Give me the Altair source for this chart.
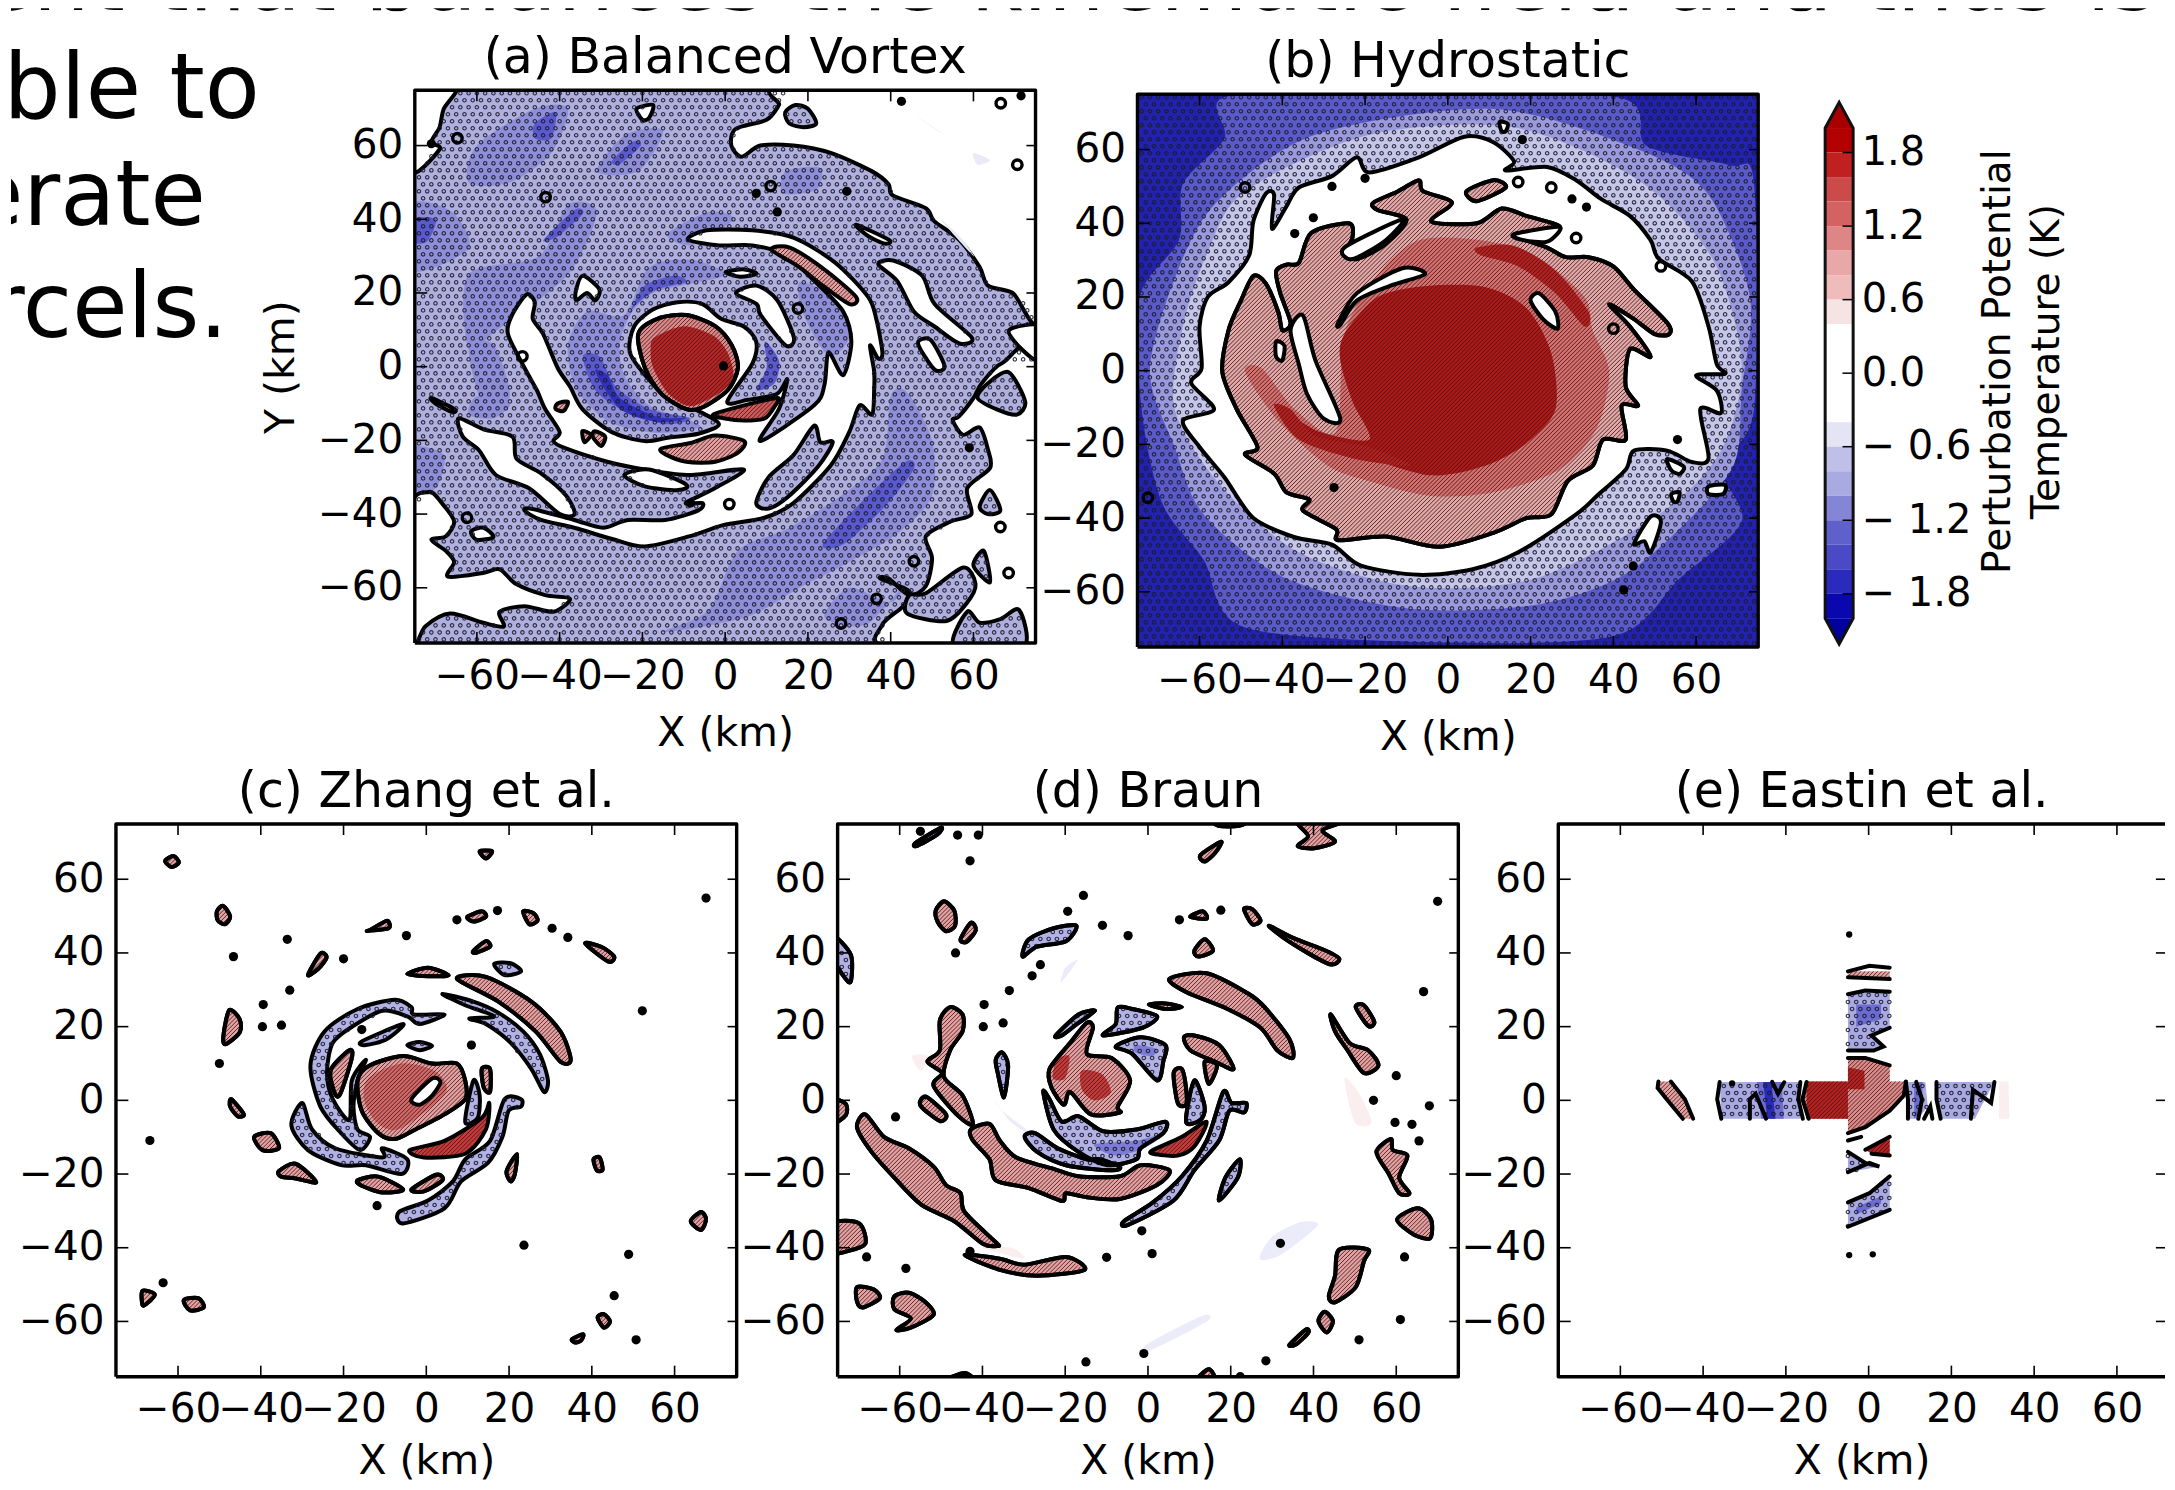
import altair as alt
import numpy as np
import pandas as pd

# ---------- colour bar ----------
CB_EDGES = [2.0,1.8,1.6,1.4,1.2,1.0,0.8,0.6,0.4,-0.4,-0.6,-0.8,-1.0,-1.2,-1.4,-1.6,-1.8,-2.0]
CB_COLORS = ["#b30000","#c02020","#cb4a4a","#d46262","#de8686","#e8a8a8","#efbcbc","#f6e4e4","#ffffff",
             "#e4e4f4","#bfbfe8","#aaaae2","#8585d8","#6060cc","#4a4ac6","#2a2abc","#0808ae"]
CB_TICKS = [-1.8,-1.2,-0.6,0.0,0.6,1.2,1.8]
KM_TICKS = [-60,-40,-20,0,20,40,60]

# ---------- panel (a) ----------
A_WHITE = [
 [(-76,76),(-65,76),(-68,70),(-69,65),(-71,61),(-69,59),(-76,53)],
 [(15,76),(13,71),(10,67),(2.5,64.5),(1.5,60),(4,57),(8.5,60),(16.5,60),(25.5,58),(35.5,53),(39.5,49.5),(40.5,46.5),(48.5,43),(50.5,39.5),(56.5,34.5),(61.5,27),(63.5,22),(69.5,20),(76,14),(76,76)],
 [(-76,-39),(-71.5,-34),(-68.5,-37),(-65.5,-42),(-67.5,-46),(-71,-47),(-67.5,-50),(-65.5,-53),(-67,-57),(-58.5,-56),(-54.5,-55),(-50.5,-59),(-43.5,-62),(-37.5,-63),(-41.5,-66.5),(-48.5,-65),(-54.5,-66.5),(-53.5,-70.5),(-58.5,-69.5),(-66.5,-67),(-72.5,-70.5),(-76,-76)],
 [(76,2),(67,1),(62,-4.5),(60,-8.5),(56.5,-13.5),(55,-14.5),(57.5,-18.5),(61.5,-16.5),(63.5,-22.5),(64,-27.5),(58.5,-33),(59.5,-40),(54.5,-42),(48.5,-46),(50,-52),(48.5,-59.5),(44.5,-62),(39.5,-57.5),(37.5,-57.5),(44.5,-61),(43,-65),(38,-70),(39,-76),(76,-76)],
 [(-9,34.5),(-4.5,37),(6.5,37),(16.5,35),(26.5,28.3),(34.5,19),(36.5,13),(38,3.8),(37,2.2),(35,5.8),(36,-1.3),(36,-6.4),(35.5,-13),(32.5,-10.5),(30,-17.7),(25.5,-26.8),(16.5,-37),(9.5,-41),(-0.5,-43),(-8.5,-46),(-19.5,-48.8),(-27.5,-46.7),(-36.5,-43.7),(-44.5,-41.6),(-48.5,-39),(-46.5,-38.6),(-36.5,-41.6),(-29.5,-43.7),(-23.5,-41.6),(-14.5,-41.6),(-6.5,-39),(-5.5,-37),(-9.5,-37),(-2.5,-33),(4.5,-27.9),(-8.5,-29.4),(-19.5,-27.9),(-28.5,-25.8),(-38.5,-22.2),(-41.5,-20.2),(-40,-17.7),(-43.5,-11.5),(-45.5,-6.4),(-48.5,-.3),(-52.5,8.9),(-51.5,14),(-48,19.6),(-46,17.5),(-46.5,13),(-44,8.9),(-40.5,-.3),(-37.5,-5.4),(-34.5,-11.5),(-27.5,-17.7),(-19.5,-20.2),(-13.5,-19.2),(-6.5,-18.2),(-1.5,-15.6),(-6.5,-12),(-13.5,-8.5),(-18.5,-3.4),(-23,3.8),(-22,10.9),(-17.5,15.5),(-11.5,17.5),(-5.5,17),(-1,13),(4.5,10.9),(7.5,6.8),(6.5,.7),(.5,-9.5),(5.5,-9),(12.5,-7.4),(15,-3.4),(13,-11.5),(8.5,-20.2),(21.5,-10.5),(24,-4.9),(25,3.8),(28.5,-2.3),(30.5,6.8),(28.5,15),(21.6,23.2),(14.6,30.3),(6.6,32.9),(-1.4,32.9)],
 [(-64.4,-14),(-58.4,-17),(-51.4,-19),(-50.4,-25),(-44.4,-29),(-38.4,-35),(-36.4,-40),(-40,-40),(-47.4,-33),(-55.4,-29.4),(-59.4,-22.8),(-63.4,-19)],
 [(37,27.8),(40.6,28.8),(47.6,24.7),(50.6,17),(59.6,7.9),(56.6,6.3),(50.6,10.9),(45.6,15),(41.6,23.2)],
 [(46.6,6.3),(49.6,7.3),(53,.2),(50.6,-.8)],
 [(31.6,38.5),(39.6,34.4),(38.6,33.4),(34.6,35.4)],
 [(.1,25.7),(4.6,26.4),(7.6,25.2),(3.6,24.4)],
 [(2.6,20),(7.6,22),(12.6,18),(16.6,7.9),(14.6,5.8),(8.6,14),(7.6,17)],
 [(-36,21),(-34.4,24.7),(-30.4,21),(-31.4,18),(-33.4,20),(-36,18)],
 [(-21.4,70),(-17.4,71),(-18.4,67.5),(-20,67)],
 [(-71,-8.5),(-65.4,-11.5),(-66,-12.3),(-70,-10)],
 [(-24.4,-29.4),(-18.4,-27.9),(-9.4,-32),(-11.4,-33.5),(-19.4,-32.5)],
 [(-61.4,-44.7),(-58.4,-43.7),(-56,-46.2),(-60,-47)],
 [(68.6,9.9),(76,11),(76,1.7),(71.6,4.8)],
]
A_ISLANDS = [
 [(14.5,69),(17,71),(20,70),(22,66),(19,65),(15.5,66)],
 [(7.5,-37),(10.5,-30),(16.5,-24),(21.5,-16),(23,-20.5),(26,-20.5),(22.5,-27),(15.5,-35),(10.5,-38.5)],
 [(55.5,-76),(58.5,-66.5),(61.5,-69.5),(66.5,-68.5),(71,-66),(72,-76)],
 [(48.5,-61.5),(57.5,-54.5),(60.5,-59),(58.5,-64),(53.5,-69),(44,-67),(44.5,-62)],
 [(64,-33.5),(66.5,-39),(63.5,-40),(61.5,-38)],
 [(62.5,-50),(64,-58.5),(60,-54)],
 [(61,-8.5),(63.5,-4.5),(68.5,-1.5),(72.5,-9.5),(70.5,-13),(65.5,-11.5)],
]
A_SHADE1 = [
 [(-24.4,14),(-18.4,27),(-8,29),(0,25),(-10.4,22),(-17.4,20),(-22.4,15),(-25.4,6.8),(-24.4,-2.3),(-18.4,-10.5),(-8.4,-14.6),(-6.4,-16.6),(-16.4,-18),(-28,-15),(-36,-6),(-38,6),(-33.4,15)],
 [(-4,-66),(3,-50),(15,-44),(28,-35),(38,-25),(40,-8),(44,-7),(50,-20),(50,-35),(42,-45),(30,-53),(18,-60),(5,-68),(-15,-72)],
 [(-62,25),(-45,30),(-38,44),(-31,42),(-38,25),(-55,10),(-62,5)],
 [(-31,53),(-24,63),(-15,64),(-21,53)],
 [(-60,60),(-46,70),(-38,70),(-42,58),(-52,50),(-62,50)],
 [(-76,44),(-66,42),(-62,32),(-76,26)],
 [(14.6,53),(23,54),(22,48),(14,47)],
 [(-62,5),(-56,6),(-52,-8),(-58,-12)],
 [(18,23),(27,18),(30,8),(25,3),(19,14)],
 [(-76,-22),(-68,-24),(-70,-33),(-76,-33)],
 [(-60,-8),(-52,-10),(-56,-14),(-62,-13)],
 [(44,-58),(40,-64),(30,-60),(24,-68),(34,-70)],
 [(-14,36),(-4,42),(2,40),(-8,33)],
]
A_SHADE2 = [
 [(-34.4,2.8),(-30.4,2.8),(-26.4,-5.4),(-18.4,-11.5),(-8.4,-14),(-14.4,-15.6),(-24.4,-12),(-31.4,-6.4)],
 [(-22.9,15),(-19.4,22),(-12.4,24.7),(-9.4,23),(-16.4,21),(-21.4,17)],
 [(9.6,6.8),(13,1.7),(12,-4.4),(7.6,-6.4),(10,-.3)],
 [(-43.9,34.4),(-36.4,42.5),(-34.4,41.5),(-40.4,35.4)],
 [(23.6,-48.2),(33.6,-36),(43.6,-25.8),(45.6,-27.8),(38.6,-38),(28.6,-48.2)],
 [(-27.4,55.8),(-22.4,61),(-20.4,60),(-25.4,55)],
 [(-46,66),(-41,69),(-42,62),(-46,62)],
 [(-76,40),(-70,40),(-72,34),(-76,34)],
]
A_SHADE3 = [[(-31.4,-1.3),(-28.4,-2.3),(-25.4,-8.5),(-16.4,-13.6),(-9.4,-14),(-16.4,-15),(-25.4,-11.5)]]
A_PALE = [[(60,58),(64,56),(61,54.8)],[(46,68),(53,63),(50,65)],[(52,40),(60,30),(57,35)]]
A_RED_LIGHT = [
 [(11.1,31.8),(15.6,32.3),(23.6,26.7),(31.6,19),(30.1,17),(23.6,22),(17.6,27.3)],
 [(-15.4,-22.2),(-8.4,-20.7),(-2.4,-18.7),(4.6,-20.2),(3.1,-23.3),(-2.4,-25.8),(-9.4,-25.8),(-14.4,-23.8)],
 [(-40.5,-10),(-38,-9.5),(-39,-12),(-41,-11.5)],
 [(-34.5,-17.5),(-32.5,-18.5),(-34,-20.5)],
 [(-31.5,-17.5),(-29,-19),(-30,-21.5),(-32,-19)],
]
A_RED_MID = [[(-2.9,-13),(4.6,-10.5),(12.6,-8.5),(12.1,-10.5),(9.6,-14),(4.6,-14.6),(-.4,-14)]]
A_CORE = [[(-21,8.9),(-16.4,13),(-9.4,14),(-2.4,11),(1.6,5.8),(3.1,-.3),(.6,-6.4),(-5.4,-11),(-9.4,-11.5),(-15.4,-7.4),(-19.4,-.3)]]
A_CORE_IN = [[(-17,8),(-10,11),(-3,8.5),(0.5,4),(2,-2),(0,-6),(-6,-10),(-9.5,-10.5),(-14,-7),(-17.5,0),(-18,5)]]
A_LOOPS = [(-64.7,62),(-43.4,46),(11,49),(70.6,54.8),(66.6,71.5),(-49,2.8),(17.6,15.8),(1,-37.3),(-62.4,-41),(45.6,-52.8),(36.6,-63),(28,-69.7),(66.5,-43.5),(68.5,-56)]
A_BLOBS = [(7.5,47),(29.4,47.6),(12.6,42),(42.6,72),(71.5,73.5),(-0.4,.2),(-8.4,-37),(59,-22),(-71,60.5)]

# ---------- panel (b) ----------
B_SHADE1 = [[(-54,74.2),(-19,75.2),(41,74.2),(48,61),(68,55.8),(74,50.7),(74,-10.5),(66,-25.8),(71,-41),(56,-56.4),(41,-71.7),(1,-73.8),(-49,-69.7),(-59,-51.3),(-69,-36),(-74,-10.5),(-74.5,20),(-65,35.4),(-64,50.7),(-54,63)]]
B_SHADE2 = [[(-32,64),(11,71),(46,60),(63,47.7),(73,20),(71,-5.4),(69,-25.8),(55,-44),(41,-56.4),(21,-63.6),(-9,-64.6),(-39,-56.4),(-59,-39),(-66,-20.7),(-72,-.3),(-66,25),(-56,45.6)]]
B_SHADE3 = [[(-49,48.7),(-19,64),(16,66),(46,51.7),(64,30.3),(71,1.7),(66,-21.7),(51,-39),(21,-56.4),(-9,-58.5),(-36,-49.3),(-55,-31),(-66,-10.5),(-64,12),(-58,32.3)]]
B_WHITE = [[(-64,-13.6),(-56.5,-10.5),(-62,-3.4),(-59.5,.7),(-60,12),(-58,20),(-53,24),(-48,31.3),(-47,40.5),(-44,48),(-42,47.7),(-42.5,38.5),(-39,44.6),(-36,49.7),(-28,52.8),(-22,57.9),(-19,53.8),(-7,57.9),(4,63.5),(11,62),(16,56.8),(14,54.3),(24,55.3),(31,51.7),(37,46.6),(44,42),(49,35.4),(51,30.3),(59,24.2),(63,12),(65,1.7),(67,-.8),(60,-1.3),(65,-5.4),(66,-11.5),(61,-10.5),(63,-23.8),(59,-24.8),(53,-21.7),(45,-21.7),(43,-26.8),(36,-34),(31,-39),(17,-49.3),(6,-53.9),(-7,-55.4),(-21,-52.9),(-28,-47.2),(-37,-45.2),(-47,-40),(-54,-28.9),(-60,-20.7)],
 [(53,-24),(57,-26),(56,-28),(54,-27)],
 [(45,-47),(49,-39.6),(51.5,-41),(49,-49.3),(47.5,-46.3)],
 [(12.5,67.5),(14.5,67),(14,65),(13,65)],
 [(63,-31.4),(67,-31),(66.5,-33.5),(63,-33.5)],
 [(54,-33.5),(56,-33),(55.5,-35.5),(54.5,-35.5)]]
B_RED = [[(-54.5,-.3),(-53,11),(-50,19),(-47,25.7),(-44,23.7),(-41,16),(-40,11),(-38,13),(-40.5,21),(-41.5,27),(-39,28.8),(-36,29.3),(-33,37.4),(-24,40),(-23,36.4),(-24.5,32.3),(-22,30.3),(-15,34.4),(-10,41),(-17,43.6),(-18,45.6),(-12,48.7),(-7,51.7),(-6,48.7),(1,45.6),(-4,40.5),(7,40),(13,44),(19,42),(27,39),(16,37),(24,33.4),(28.5,30.8),(34,30.8),(40,28.3),(45,22),(53,13),(53.5,9.9),(50,9.9),(45,14),(39,18),(44,12),(49,3.8),(44,5.8),(43,-4.4),(46,-9.5),(42,-9.5),(43,-18.7),(37.5,-18.7),(35,-25.8),(29,-29.9),(25,-39),(19,-40),(11,-44),(-2,-47.8),(-15,-45),(-26.5,-46),(-27,-43),(-35,-38),(-33.5,-35),(-39,-33),(-42,-27.9),(-49,-22.8),(-46,-20.7),(-51,-10.5)],
 [(4.5,48.7),(11,51.7),(14,49.7),(7,46)]]
B_MID = [[(-7,35.4),(8,35.4),(21,31.3),(33,20),(35,11),(39,-.3),(36,-15.6),(27,-26.8),(11,-33),(-4,-34),(-19,-30),(-29,-25.8),(-41,-13.6),(-49,-.3),(-45,.7),(-37,-10.5),(-27,-16.6),(-25,9.9),(-17,26)]]
B_ARCS = [[(7,33.4),(16,33.9),(26,27.2),(34,16),(33,12),(26,21),(17,28.3),(8,31.3)],
          [(-42,-9.5),(-38,-10.5),(-32,-17.7),(-19,-20.7),(-9,-25.8),(-23,-23.8),(-36,-18.7)]]
B_CORE = [[(-25,9.9),(-17,20),(-5,23),(9,22.7),(19,17),(25,4.8),(26,-10.5),(19,-19.7),(9,-25.8),(-4,-28.4),(-19,-23.8),(-35,-18.7),(-39,-11.5),(-31,-16.6),(-19,-18.7),(-23,-8.5),(-26,2.8)]]
B_HOLES = [[(-26.5,13),(-22,21),(-11,27.8),(-5.5,26.2),(-14,23),(-22,19),(-26,12.4)],
 [(20,19),(22,21),(26,16),(26.5,11.4),(23,14)],
 [(-38,11),(-35,15),(-32,2.8),(-26,-13),(-30,-13),(-34,-6.4),(-36,1.7)],
 [(-41.5,7.9),(-39.5,6.8),(-40,2.8),(-41.5,3.8)],
 [(-25,33.4),(-11,41),(-15,35.4),(-23,30.3)],
 [(16,37),(27,39),(24,35),(18,35.5)]]
B_LOOPS = [(-49,49.7),(-72.5,-34.5),(25,49.7),(31,36),(51.5,28.3),(40,11.4),(17,51.2)]
B_BLOBS = [(18,62.7),(-28,50),(-20,52.2),(30,46.6),(33.5,44.4),(-27.5,-31.7),(44.8,-53),(42.5,-59.5),(55.5,-18.7),(-32.5,41.5),(-37,37.2)]

# ---------- panel (c) ----------
C_BLUE = [
 [(-28,9.5),(-24.6,18.7),(-16.6,24.8),(-7.6,27.3),(-3.6,25.3),(-3,23.3),(4.4,23.3),(-1.6,20.7),(-4.6,22.8),(-10.6,24.3),(-17.6,20.2),(-22.6,15.6),(-24,7.4),(-22.6,.3),(-18.6,-5.3),(-18,5.4),(-14.6,11),(-16.6,5.4),(-17.6,-1.7),(-16.6,-7.9),(-13.6,-9.9),(-16,-13.5),(-20.6,-8.9),(-25.6,-1.7)],
 [(-15.6,16),(-5.6,20.7),(-9.6,16.6),(-14.6,15)],
 [(3.9,28.9),(11.4,26.8),(17.4,23.8),(23.4,18.7),(27.4,12.6),(29.4,5.4),(28.4,2.3),(25.4,8.5),(20.4,15.6),(14.4,20.7),(10.4,22.2),(16.4,22.8),(9.4,25.8)],
 [(-32.6,-6.8),(-30,-.7),(-27.6,-7.9),(-22,-13),(-10.6,-15.5),(-10.6,-13),(-4.6,-16),(-6,-20),(-14.6,-17.6),(-20.6,-17.6),(-28.6,-13.5)],
 [(-6.6,-30.3),(.4,-27.2),(6.4,-22),(9.4,-16),(15.4,-11),(18.9,.3),(22.9,.3),(22.9,-1.7),(19.9,-2.8),(18.4,-9.9),(14.9,-17),(8.4,-22),(4.4,-29.3),(-5.6,-33.4)],
 [(9.4,-5.8),(11.4,5.4),(12.9,1.3),(12.4,-4.8)],
 [(-4.6,15),(-1.6,15.8),(1.4,14.8),(-1.6,13.6)],
 [(16.4,37),(20.4,37.2),(22.9,35),(18.9,34)],
]
C_RED = [
 [(-16.6,5.4),(-13.6,9.5),(-5.6,12),(1.4,10),(7.4,10),(9.4,5.4),(9.4,.3),(4.4,-3.8),(-2.6,-7.9),(-7.6,-10.5),(-11.6,-8.9),(-15.6,-2.8)],
 [(7.4,33),(14.4,33.5),(25.4,26.8),(32.4,18.7),(34.9,11),(32.4,10.5),(26.4,18.7),(17.4,26.8)],
 [(-23,8.5),(-18.6,13.6),(-18,11.5),(-21,1.3),(-22.6,3.4)],
 [(13.4,8.5),(15.4,8.5),(15.4,2.3),(13.9,3.4)],
 [(-13.6,46.2),(-9.6,48.7),(-9.1,46.7),(-14.1,46)],
 [(-4.6,34.3),(.4,36),(5.4,33.9),(.4,33.7)],
 [(-16.6,-21.7),(-11.6,-20.7),(-5.6,-24.2),(-10.6,-25),(-15.6,-23.2)],
 [(-3.6,-24.2),(2.4,-20.2),(3.9,-21.7),(-.6,-24.7)],
 [(-35.6,-19.2),(-31.6,-17.2),(-26.6,-22.2),(-31.6,-21.2),(-35.1,-20.7)],
 [(-41.6,-9.9),(-37.6,-8.9),(-35.6,-13),(-39.6,-13.5)],
 [(-49,17.9),(-47.6,24.5),(-45.1,22),(-45.1,18.4),(-48.6,15.2)],
 [(-28.6,34),(-25.6,39.8),(-24.1,38.8),(-26.1,35.7)],
 [(-50.6,51.3),(-49.1,52.8),(-47.4,49.9),(-48.6,47.8),(-50.4,48.8)],
 [(23.4,51.3),(25.9,50.8),(26.9,48.8),(24.9,47.8)],
 [(11.4,40.6),(14.4,43.2),(15.4,41.7),(11.9,40)],
 [(9.9,49.8),(13.4,51.3),(14.4,49.8),(11.4,48.5)],
 [(38.4,42.6),(42.4,41.6),(45.4,39),(43.9,37.7)],
 [(-47.1,.3),(-44.1,-3.8),(-45.6,-4.3),(-47.4,-1.7)],
 [(12.9,67.6),(15.9,67.6),(14.4,65.6)],
 [(-68.6,-51.7),(-65.6,-52.7),(-67.6,-55.2),(-68.6,-55.5)],
 [(-58.6,-54.2),(-55.1,-53.7),(-53.8,-56.2),(-57.1,-57)],
 [(63.9,-32.8),(66.4,-30.3),(67.6,-32.3),(66.4,-35.2)],
 [(40.4,-16),(41.9,-15.5),(42.6,-18.8),(41.2,-19)],
 [(41.4,-58.9),(42.9,-58),(44.4,-60),(42.9,-61.7)],
 [(35.2,-64.8),(37.9,-63.5),(37.4,-65.2),(35.9,-65.7)],
 [(-63.1,65),(-61.1,66.3),(-59.8,64.5),(-61.6,63.3)],
 [(19.4,-19.2),(21.9,-14.6),(21.4,-20),(20.4,-22)],
]
C_MIDDLE = [[(-14,6),(-6,10),(2,8),(5,3),(1,-2),(-7,-8),(-12,-6),(-15,0)]]
C_DARK = [[(-4,-13.5),(4.4,-11),(13.4,-4.8),(15.2,-.7),(14.4,-7.9),(9.4,-14.5),(-.6,-15.5)]]
C_HOLES = [[(-3.6,.3),(1.4,5.9),(3.4,4.9),(1.4,1.3),(-1.6,-1.2)]]
C_BLOBS = [(-46.6,39),(-39.6,20),(-50,10),(-33.6,43.7),(-20,38.4),(-4.8,44.7),(7.4,49),(17.2,51.5),(30.4,46.7),(34.2,44.2),(52.2,24.3),(67.6,54.9),(-66.8,-10.9),(48.9,-41.8),(45.4,-53),(50.7,-65),(-35,20.4),(10.9,15),(-11.9,-28.6),(-63.6,-49.5),(-39.4,26),(-33,29.9),(23.6,-39.3),(-15.6,19.2)]

# ---------- panel (d) ----------
D_RED = [
 [(-42.8,-7.9),(-38.3,-6.4),(-35.8,-10.9),(-31.8,-15.5),(-22.8,-18.6),(-16.8,-20.6),(-6.8,-20.6),(-1.8,-17.6),(5.2,-19),(2.2,-23),(-6.8,-26.8),(-14.8,-26.3),(-19.8,-25.2),(-20.8,-27.3),(-28.8,-23.8),(-36.8,-21.7),(-38.3,-16),(-42.3,-10.9)],
 [(-70.3,-7.4),(-68.3,-3.8),(-63.8,-9.9),(-57.8,-13),(-51.8,-18),(-48.8,-23),(-45.3,-25.2),(-44.3,-30.3),(-36.8,-38.5),(-36.3,-39.5),(-39.8,-39),(-46.8,-32.8),(-54.8,-28.3),(-61.3,-21),(-66.8,-14)],
 [(-44.3,-42),(-35.8,-43),(-29.8,-44.6),(-19.8,-42.5),(-15.3,-46),(-26.8,-47.6),(-35.8,-46)],
 [(5.2,33),(14.2,34.5),(24.2,29),(28.2,25.3),(34.2,16.6),(35,11.5),(31.2,13.6),(27.2,19.7),(19.2,24.8),(9.2,29.4)],
 [(-23.8,8.5),(-18.8,15.6),(-14.8,21),(-13.3,19.7),(-14.8,12.6),(-8.8,11.5),(-4.3,5.4),(-7.3,-1.7),(-6.8,-3.3),(-13.8,-3.8),(-18.8,2.3),(-20.3,-1.2),(-23.3,3.4)],
 [(-50.3,21.7),(-47.8,25.3),(-44.8,23.3),(-44.8,18.7),(-47.8,13.6),(-49.3,6.4),(-44.8,1.3),(-42.3,-6.4),(-45.8,-4.3),(-51.8,3.9),(-49.8,7.4),(-53.3,10.5),(-50.3,13.6)],
 [(8.7,17.1),(11.2,17.6),(17.2,15),(20.7,8.5),(16.2,10.5),(10.2,13.6)],
 [(6.2,7.4),(8.2,8.5),(9.2,3.4),(9.2,-1.2),(7.2,-.7)],
 [(13.7,10.5),(16.7,9.5),(14.7,4.4)],
 [(29.2,47.4),(35.2,44),(42.2,41),(46.2,38.5),(43.7,37),(34.2,43)],
 [(44.2,23.3),(48.7,15.6),(53.2,13.6),(55.7,9.5),(52.2,7.4),(48.2,13.6),(45.2,18.7)],
 [(50.2,25.3),(52.2,25.8),(54.7,21.3),(53.2,20.2)],
 [(55.2,-14),(58.7,-10.5),(59.2,-13.5),(62.7,-15),(60.7,-21),(63.2,-25.2),(60.7,-25.2),(58.2,-20)],
 [(60.2,-32.3),(65.2,-29.3),(68.4,-32.3),(68.2,-37.4),(64.2,-36.4)],
 [(46.2,-40.5),(53.2,-40.5),(52.2,-43.6),(50.2,-50.7),(45.2,-54.8),(43.7,-53.2),(45.2,-47.6)],
 [(-76,-33.4),(-69.8,-33.4),(-68.3,-38.9),(-72.8,-41),(-76,-41)],
 [(-70.3,-50.7),(-66.3,-51.3),(-64.8,-53.7),(-68.8,-56.2),(-70.3,-54.7)],
 [(-61.3,-53.2),(-57.8,-52.2),(-53.8,-54.7),(-51.8,-58.2),(-57.3,-61.7),(-60.8,-62.3),(-57.3,-59.2),(-61.3,-56.7)],
 [(-51.3,51.5),(-49.3,54),(-46.8,51.5),(-46.6,47.4),(-48.8,45.9),(-50.8,48.4)],
 [(-45.3,43.7),(-42.8,48.2),(-41.6,46.2),(-43.8,43)],
 [(23.2,51.9),(25.2,51.9),(27.2,48.8),(25.2,47.8)],
 [(11.2,40.6),(13.7,43.7),(15.7,40.6),(12.2,39)],
 [(10.2,49.8),(13.2,51.3),(14.2,49.3)],
 [(12.7,66.6),(17.7,70.2),(16.2,67.1),(13.7,64.8)],
 [(36.2,76),(47.7,76),(42.2,73.3),(45.2,70.2),(40.2,68.4),(36.2,69),(38.7,71.7)],
 [(16.2,76),(24,76),(22,74.5),(17,74.5)],
 [(-54.8,.3),(-53.3,.8),(-48.8,-3.8),(-50.3,-5.6),(-54.8,-1.7)],
 [(41.2,-59.9),(42.7,-57.4),(44.7,-59.9),(43.2,-63)],
 [(34.2,-66.3),(38.2,-62.2),(38.7,-63.2),(35.7,-66.3)],
 [(11.7,-76),(14.7,-73),(16.2,-76)],
 [(.2,26),(4.2,26.3),(8.2,25.3),(4.2,24.8)],
 [(-49,-76),(-44.3,-74),(-42.3,-76)],
 [(-76,0),(-73,-1),(-73,-4),(-76,-6)],
]
D_MIDDLE = [[(-16,8),(-11,7),(-9,2),(-13,0),(-16,3)],[(-22,11),(-19,12),(-20,6),(-23,6)]]
D_DARK = [[(1.2,-13.5),(8.2,-9.9),(14.2,-5.8),(11.2,-12.5),(7.2,-15),(1.2,-14.5)]]
D_BLUE = [
 [(-25.3,2.3),(-23.8,.3),(-20.8,-5.8),(-16.8,-4.3),(-10.8,-8.4),(-2.8,-7.9),(4.2,-5.8),(3.7,-8.9),(-1.8,-13),(-2.8,-16),(-9.8,-17.6),(-16.8,-14),(-22.8,-7.9)],
 [(-29.8,-9.9),(-27.3,-8.9),(-21.8,-13),(-14.8,-16),(-11.8,-16),(-6.8,-18),(-8.8,-19),(-19.8,-17.6),(-26.8,-14)],
 [(-5.8,-32.8),(1.2,-27.7),(8.2,-20.6),(14.2,-10.9),(18.2,2.3),(20.2,-.7),(23.7,-.7),(23.2,-3.3),(19.7,-2.8),(17.2,-10.9),(11.2,-19),(6.2,-27.2),(-4.8,-33.8)],
 [(-7.8,14.6),(-1.8,17.1),(4.2,15),(3.7,10.5),(2.2,5.4),(-3.8,12.6)],
 [(-10.8,17.6),(-7.8,20.7),(-7.3,25.2),(-3.8,24.8),(2.2,22.8),(-1.3,19.7)],
 [(-30.3,39),(-28.8,43.7),(-22.8,46.7),(-17.3,47.4),(-19.8,43.2),(-26.8,41.7)],
 [(-36.8,11),(-35.3,13),(-33.8,9.5),(-34.8,.8),(-36.3,7.4)],
 [(9.2,-5.8),(11.2,5.4),(13.7,-1.7),(12.7,-5.3)],
 [(17.2,-27.2),(18.7,-21),(22.2,-16),(21.7,-21)],
 [(-76,44.6),(-71.8,39.5),(-71.8,32.3),(-73.3,33.3),(-76,38.5)],
 [(-22.3,17.6),(-16.8,23.3),(-12.8,24.3),(-16.8,21),(-20.8,17.6)],
 [(-56,70),(-50,74),(-51,72),(-56,69)],
]
D_SHADE = [[(-3,-11),(4,-9),(-1,-13),(-8,-15),(-13,-12)],[(-3,15),(2,14),(1,12),(-3,13)]]
D_PALE_B = [[(0.2,-68),(14.2,-60),(13,-58.5),(0,-66)],[(27,-43),(32,-42),(41,-34),(37,-33),(30,-37)],[(-20,36),(-17,38),(-21,32)],[(-37,0),(-35,-3),(-27,-10),(-33,-6)]]
D_PALE_R = [[(47.5,6),(51,2),(54,-6),(50,-6)],[(-40,-40),(-30,-43),(-33,-40)],[(-57,12),(-55,8),(-53,12)]]
D_BLOBS = [(-46.5,40),(-39.6,26),(-33.5,29.8),(-39.8,20),(-35,21),(-4.8,44.7),(-11,47.5),(-19.4,51.3),(-15.6,55.6),(7.6,49),(17.6,51.6),(59.7,-6),(63.8,-6.5),(65.5,-11),(68,-1.5),(60,6.7),(54.5,0),(-43,-41),(-68,-42.5),(-58.5,-45.6),(1,-41.6),(-10,-42.6),(-1.5,-35.4),(32,-38.8),(62,-42.5),(61,-59.5),(51,-65),(28.5,-70.7),(-1,-68.7),(-15,-71),(22.3,-75),(70,54),(66.6,29.5),(-28,33.8),(-26,36.8),(-61,-4.5),(-55,73),(-46,72),(-41,72),(-43,65)]

# ---------- panel (e) ----------
E_BLUE = [
 [(-36,5),(-16.5,5),(-16.5,-5),(-35.6,-5)],
 [(9.5,5),(13.7,5),(14.3,-1.7),(12,-5),(9.5,-5)],
 [(16.4,5),(30.4,5),(27.2,-1.7),(25.7,-5),(17.4,-5)],
 [(-5,29),(5.1,29.5),(5.1,19.7),(.7,17.6),(3.6,14.6),(1.2,13.5),(-5,13.5)],
 [(-5,-27.7),(.2,-25.2),(5.1,-20.6),(5.1,-29.7),(-5,-34.3)],
 [(-5,-14),(-.8,-17),(2.6,-18),(-5,-19.5)],
]
E_SHADE = [[(-27,5),(-21,5),(-20.5,-5),(-26,-5)],[(-3,26),(3,26),(3,22),(-3,20)],[(-3,-29),(3,-26),(3,-28),(-3,-31)],[(11,5),(13,5),(13,-3),(11,-5)]]
E_DEEP = [[(-25.5,5),(-23.5,5),(-22.5,-5),(-24.5,-5)]]
E_RED = [[(-50.8,5.1),(-47.8,5.1),(-44.4,.3),(-42.4,-5),(-44.9,-5),(-48.8,.3),(-51,3.4)],
         [(-5,35),(5.1,35),(5.1,33.2),(-5,33.6)]]
E_CENTER = [[(-5,11.5),(.2,11.5),(5.1,9.5),(5.1,5.1),(9,5.1),(8.5,1.3),(5.1,-2.8),(-.8,-7.3),(-5,-8.9),(-5,-5),(-15,-5),(-16,.3),(-15,5.1),(-5,5.1)]]
E_DARK = [[(-15,5.1),(-5,5.1),(-5,-5),(-15,-5)],[(-5,9),(-1,8),(-1,3),(-5,3)],[(-.8,-13.4),(5.1,-9.9),(5.1,-15),(.7,-14.5)]]
E_PINK = [[(31.5,5.1),(33.8,5.1),(34,-5),(31.5,-5)]]
E_LINES = [
 [(-36,5),(-36.6,.3),(-35.6,-5)],[(-28.7,-5),(-28.7,.3),(-27.3,1.8),(-24.8,-5)],[(-23.3,5),(-21.9,1.8),(-20.4,4.9)],
 [(-16.5,5),(-17,.3),(-15.9,-5)],[(-15,5),(-16,.3),(-14.5,-5)],[(9,5),(9.5,.3),(9.5,-5)],[(11.5,5),(12.9,.3),(12,-5)],
 [(16.4,5),(16.4,.3),(17.4,-5)],[(13.4,-5),(14.9,-1.7),(15.4,-5)],[(24.7,-5),(25.2,2.9),(29.6,-.7),(30.4,5)],
 [(-5,28.8),(-.8,29.8),(5.1,29.5)],[(-5,35),(.2,36.5),(5.1,36)],[(-5,33.4),(5.1,32.9)],
 [(5.1,19.7),(.7,17.6),(3.6,14.6),(1.2,13.5),(-5,13.5)],[(-5,11.5),(-.8,11.5),(5.1,9.5)],
 [(-5,-8.9),(-.8,-7.3),(5.1,-2.8),(8.5,1.3),(9,5.1)],[(-5,-10.9),(-1.8,-9.9)],[(-.8,-13.4),(5.1,-9.9)],[(.7,-14.5),(5.1,-15)],
 [(-5,-14),(-.8,-17),(2.6,-18),(.2,-17),(-5,-19.5)],[(-5,-27.7),(.2,-25.2),(5.1,-20.6)],[(-5,-34.3),(5.1,-29.7)],
 [(-50.8,5.1),(-51,3.4),(-48.8,.3),(-44.9,-5)],[(-47.8,5.1),(-44.4,.3),(-42.4,-5)],
]
E_BLOBS = [(-4.7,45),(-4.7,-42),(1,-41.8),(-33,4.6)]

TOP_LINE = "ent that balances the kinematic field and thus is"
SIDE_TEXT = ["ble to", "erate", "rcels."]

FONT = "DejaVu Sans"
KY = 1.122  # 45 degrees on the page
PURPLE = "#b0b0df"
PW, PH = 621, 553
PW_E, XMAX_E = 607, 71.62
SW = 4


def make_axis(title, pad, tpad):
    return alt.Axis(values=KM_TICKS, format="d", title=title, ticks=False, domain=False, grid=False,
                    labelFontSize=40.5, titleFontSize=41, labelPadding=pad, titlePadding=tpad,
                    labelFlush=False, labelOverlap=False, labelFont=FONT, titleFont=FONT,
                    labelColor="black", titleColor="black", titleFontWeight="normal")


def set_scales(xmax=75, ytitle=None, xpad=17):
    global XQ, YQ
    XQ = alt.X("x:Q", scale=alt.Scale(domain=[-75, xmax], nice=False, zero=False), axis=make_axis("X (km)", 13, xpad))
    YQ = alt.Y("y:Q", scale=alt.Scale(domain=[-75, 75], nice=False, zero=False), axis=make_axis(ytitle, 12, 15))


def rows(polys):
    return pd.DataFrame([{"id": k, "i": i, "x": float(p[0]), "y": float(p[1])}
                         for k, poly in enumerate(polys) for i, p in enumerate(poly)])


def fills(polys, fill, outlined=True, interp="cardinal-closed"):
    kw = dict(fill=fill, interpolate=interp, clip=True)
    if interp.startswith("cardinal"):
        kw["tension"] = 0.15
    if outlined:
        kw.update(stroke="black", strokeWidth=SW, strokeJoin="round")
    else:
        kw.update(stroke=fill, strokeWidth=0)
    return alt.Chart(rows(polys)).mark_line(**kw).encode(x=XQ, y=YQ, detail="id:N", order="i:Q")


def inside(x, y, polys):
    hit = False
    for poly in polys:
        n = len(poly)
        c = False
        for i in range(n):
            x1, y1 = poly[i]
            x2, y2 = poly[(i + 1) % n]
            if (y1 > y) != (y2 > y) and x < x1 + (y - y1) * (x2 - x1) / (y2 - y1):
                c = not c
        hit = hit or c
    return hit


def lattice():
    pts = []
    for j, y in enumerate(np.arange(-74, 75, 1.9)):
        for x in np.arange(-74 + (j % 2), 75, 2.0):
            pts.append((float(x), float(y)))
    return pts


def stipple(pts):
    d = pd.DataFrame(pts, columns=["x", "y"])
    return alt.Chart(d).mark_point(filled=False, stroke="#1c1c30", strokeWidth=1.1, size=12, opacity=0.9, clip=True).encode(x=XQ, y=YQ)


def hatch(polys):
    segs = []
    for poly in polys:
        n = len(poly)
        for c in np.arange(-170, 170, 1.0):
            xs = []
            for i in range(n):
                x1, y1 = poly[i]
                x2, y2 = poly[(i + 1) % n]
                f1 = y1 - KY * (x1 - c)
                f2 = y2 - KY * (x2 - c)
                if (f1 > 0) != (f2 > 0):
                    t = f1 / (f1 - f2)
                    xs.append(x1 + t * (x2 - x1))
            xs.sort()
            for a, b in zip(xs[0::2], xs[1::2]):
                segs.append({"x": a, "y": KY * (a - c), "x2": b, "y2": KY * (b - c)})
    d = pd.DataFrame(segs)
    return alt.Chart(d).mark_rule(stroke="#3a1515", strokeWidth=1, opacity=0.85, clip=True).encode(
        x=XQ, y=YQ, x2="x2:Q", y2="y2:Q")


def outline_only(polys, interp="cardinal-closed"):
    kw = dict(interpolate=interp, clip=True, stroke="black", strokeWidth=SW, strokeJoin="round")
    if interp.startswith("cardinal"):
        kw["tension"] = 0.15
    return alt.Chart(rows(polys)).mark_line(**kw).encode(x=XQ, y=YQ, detail="id:N", order="i:Q")


def open_lines(lines):
    return alt.Chart(rows(lines)).mark_line(stroke="black", strokeWidth=SW, clip=True, strokeCap="round").encode(
        x=XQ, y=YQ, detail="id:N", order="i:Q")


def blobs(pts, size=85):
    d = pd.DataFrame(pts, columns=["x", "y"])
    return alt.Chart(d).mark_point(filled=True, color="black", size=size, opacity=1, clip=True).encode(x=XQ, y=YQ)


def loops(pts):
    d = pd.DataFrame(pts, columns=["x", "y"])
    return alt.Chart(d).mark_point(filled=False, stroke="black", strokeWidth=3.4, size=90, opacity=1, clip=True).encode(x=XQ, y=YQ)


def background(fill):
    return alt.Chart(pd.DataFrame({"a": [0]})).mark_rect(fill=fill).encode(
        x=alt.value(0), x2=alt.value(PW), y=alt.value(0), y2=alt.value(PH))


def furniture(xmax=75):
    if xmax == 75:
        edge = [(-75, -75), (-75, 75), (75, 75), (75, -75), (-75, -75)]
    else:
        edge = [(xmax, -75), (-75, -75), (-75, 75), (xmax, 75)]
    frame = alt.Chart(rows([edge])).mark_line(stroke="black", strokeWidth=3.4, strokeJoin="round", interpolate="linear").encode(
        x=XQ, y=YQ, detail="id:N", order="i:Q")
    t = []
    for v in KM_TICKS:
        t += [{"x": v, "x2": v, "y": 75, "y2": 72}, {"x": v, "x2": v, "y": -75, "y2": -72},
              {"x": xmax, "x2": xmax - 2.2, "y": v, "y2": v}, {"x": -75, "x2": -72, "y": v, "y2": v}]
    ticks = alt.Chart(pd.DataFrame(t)).mark_rule(stroke="black", strokeWidth=1.6).encode(x=XQ, y=YQ, x2="x2:Q", y2="y2:Q")
    return [ticks, frame]


def panel(title, layers, w=PW, xmax=75, offset=5.4):
    return alt.layer(*layers, *furniture(xmax)).properties(
        width=w, height=PH,
        title=alt.TitleParams(title, font=FONT, fontSize=49, fontWeight="normal", offset=offset, anchor="middle", color="black"))


def gap(w=1, h=1):
    return alt.Chart(pd.DataFrame({"a": [0]})).mark_point(opacity=0).encode(
        x=alt.value(0), y=alt.value(0)).properties(width=w, height=h)


LAT = lattice()

# panel a
set_scales(ytitle="Y (km)")
a_dots = [p for p in LAT if (not inside(p[0], p[1], A_WHITE)) or inside(p[0], p[1], A_ISLANDS)]
a_reds = A_RED_LIGHT + A_RED_MID + A_CORE
pa = panel("(a) Balanced Vortex", [
    background(PURPLE),
    fills(A_SHADE1, "#8f8fd9", False), fills(A_SHADE2, "#5a5ace", False), fills(A_SHADE3, "#3030b8", False),
    fills(A_WHITE, "white"), fills(A_PALE, "#e9e9f8", False), fills(A_ISLANDS, PURPLE),
    stipple(a_dots),
    fills(A_RED_LIGHT, "#e6a0a0"), fills(A_RED_MID, "#d25a5a"), fills(A_CORE, "#dd8a8a"),
    fills(A_CORE_IN, "#b82424", False), hatch(a_reds), outline_only(A_CORE),
    loops(A_LOOPS), blobs(A_BLOBS),
])

# panel b
set_scales()
pb = panel("(b) Hydrostatic", [
    background("#2222ac"),
    fills(B_SHADE1, "#5a5ac8", False), fills(B_SHADE2, "#9a9adc", False), fills(B_SHADE3, "#c6c6e9", False),
    stipple(LAT),
    fills(B_WHITE, "white"),
    fills(B_RED, "#e4aaaa"), fills(B_MID, "#d87070", False), fills(B_CORE, "#b01818", False), fills(B_ARCS, "#b82020", False),
    hatch(B_RED), outline_only(B_RED), fills(B_HOLES, "white"),
    loops(B_LOOPS), blobs(B_BLOBS),
])

# panel c
set_scales(xpad=11)
c_dots = [p for p in LAT if inside(p[0], p[1], C_BLUE)]
pc = panel("(c) Zhang et al.", [
    fills(C_BLUE, "#b2b2e4"), stipple(c_dots),
    fills(C_RED, "#e6a2a2"), fills(C_MIDDLE, "#d46868", False), fills(C_DARK, "#c83a3a", False),
    hatch(C_RED + C_DARK), outline_only(C_RED), outline_only(C_DARK), fills(C_HOLES, "white"),
    blobs(C_BLOBS),
])

# panel d
d_dots = [p for p in LAT if inside(p[0], p[1], D_BLUE)]
pd_panel = panel("(d) Braun", [
    fills(D_PALE_B, "#ebebf9", False), fills(D_PALE_R, "#fbeeee", False),
    fills(D_BLUE, "#b2b2e4"), fills(D_SHADE, "#7c7cd6", False), stipple(d_dots), outline_only(D_BLUE),
    fills(D_RED, "#e6a2a2"), fills(D_MIDDLE, "#c83a3a", False), fills(D_DARK, "#c83a3a", False),
    hatch(D_RED + D_DARK), outline_only(D_RED), outline_only(D_DARK),
    blobs(D_BLOBS),
])

# panel e (its right edge lies past the window)
set_scales(xmax=XMAX_E, xpad=11)
e_dots = [p for p in LAT if inside(p[0], p[1], E_BLUE)]
LIN = "linear-closed"
pe = panel("(e) Eastin et al.", [
    fills(E_PINK, "#fbeeee", False, LIN),
    fills(E_BLUE, "#aaaae2", False, LIN), fills(E_SHADE, "#6c6cd2", False, LIN), fills(E_DEEP, "#2a2abc", False, LIN),
    stipple(e_dots),
    fills(E_RED, "#e6a2a2", False, LIN), fills(E_CENTER, "#dc8a8a", False, LIN), fills(E_DARK, "#b82020", False, LIN),
    hatch(E_RED + E_CENTER + E_DARK[2:]), open_lines(E_LINES),
    blobs(E_BLOBS, 40),
], w=PW_E, xmax=XMAX_E)

# colour bar
cb_df = pd.DataFrame({"hi": CB_EDGES[:-1], "lo": CB_EDGES[1:], "c": CB_COLORS})
CB_AXIS = alt.Axis(
    values=CB_TICKS, orient="right", ticks=False, domain=False, grid=False, labelFontSize=40, labelPadding=8,
    labelFont=FONT, labelColor="black", labelOverlap=False, labelFlush=False,
    labelExpr="datum.value < 0 ? '\u2212 ' + format(abs(datum.value), '.1f') : format(datum.value, '.1f')",
    title=["Perturbation Potential", "Temperature (K)"], titleFont=FONT, titleFontSize=39, titleFontWeight="normal",
    titleColor="black", titleAngle=270, titleX=156, titleY=259, titleLineHeight=49, titleAlign="center",
    titleBaseline="alphabetic")
CB_SY = alt.Scale(domain=[-2.21, 2.21], nice=False, zero=False)
CB_SX = alt.Scale(domain=[0, 1], nice=False, zero=False)
cy = alt.Y("y:Q", scale=CB_SY, axis=CB_AXIS)
cx = alt.X("x:Q", scale=CB_SX, axis=None)
bands = alt.Chart(cb_df).mark_rect().encode(
    x=alt.value(0), x2=alt.value(28),
    y=alt.Y("hi:Q", scale=CB_SY, axis=CB_AXIS),
    y2="lo:Q", color=alt.Color("c:N", scale=None))
tip_up = alt.Chart(rows([[(0, 2), (0.5, 2.21), (1, 2)]])).mark_line(fill="#a80000", interpolate="linear-closed", strokeWidth=0).encode(x=cx, y=cy, detail="id:N", order="i:Q")
tip_dn = alt.Chart(rows([[(0, -2), (0.5, -2.21), (1, -2)]])).mark_line(fill="#00009e", interpolate="linear-closed", strokeWidth=0).encode(x=cx, y=cy, detail="id:N", order="i:Q")
cb_edge = alt.Chart(rows([[(0, 2), (0.5, 2.21), (1, 2), (1, -2), (0.5, -2.21), (0, -2)]])).mark_line(
    stroke="#111111", strokeWidth=3, interpolate="linear-closed").encode(x=cx, y=cy, detail="id:N", order="i:Q")
cb_ticks = alt.Chart(pd.DataFrame({"y": CB_TICKS, "x": [0.62] * 7, "x2": [1.0] * 7})).mark_rule(stroke="black", strokeWidth=1.5).encode(x=cx, x2="x2:Q", y=cy)
cbar = alt.layer(bands, tip_up, tip_dn, cb_ticks, cb_edge).properties(width=28, height=542)

# slide text behind the figure
one = pd.DataFrame({"a": [0]})
strip = alt.Chart(one).mark_text(text=TOP_LINE, font=FONT, fontSize=90, align="right", baseline="alphabetic", clip=True, color="black").encode(
    x=alt.value(2148), y=alt.value(2)).properties(width=2149, height=3)
side = alt.layer(*[
    alt.Chart(one).mark_text(text=t, font=FONT, fontSize=90, align="right", baseline="alphabetic", clip=True, color="black").encode(
        x=alt.value(xp), y=alt.value(yp))
    for t, xp, yp in zip(SIDE_TEXT, [249, 195, 217], [107, 214, 326])
]).properties(width=403.7, height=340)

# nested concats count as zero size in a flush layout, so the gaps carry the panel sizes
F = dict(spacing=0, bounds="flush")
row1 = alt.hconcat(
    side,
    alt.vconcat(gap(1, 79), pa, **F),
    gap(PW + 101.3, 1),
    alt.vconcat(gap(1, 82.5), pb, **F),
    gap(PW + 66.4, 1),
    alt.vconcat(gap(1, 91), cbar, **F),
    **F)
row2 = alt.hconcat(gap(104.5, 1), pc, gap(100.5, 1), pd_panel, gap(99.1, 1), pe, **F)
chart = alt.vconcat(strip, row1, gap(1, 812.5), row2, **F).properties(padding=0, background="white").configure_view(stroke=None)
chart.save("out.html", embed_options={"renderer": "svg", "actions": False})
